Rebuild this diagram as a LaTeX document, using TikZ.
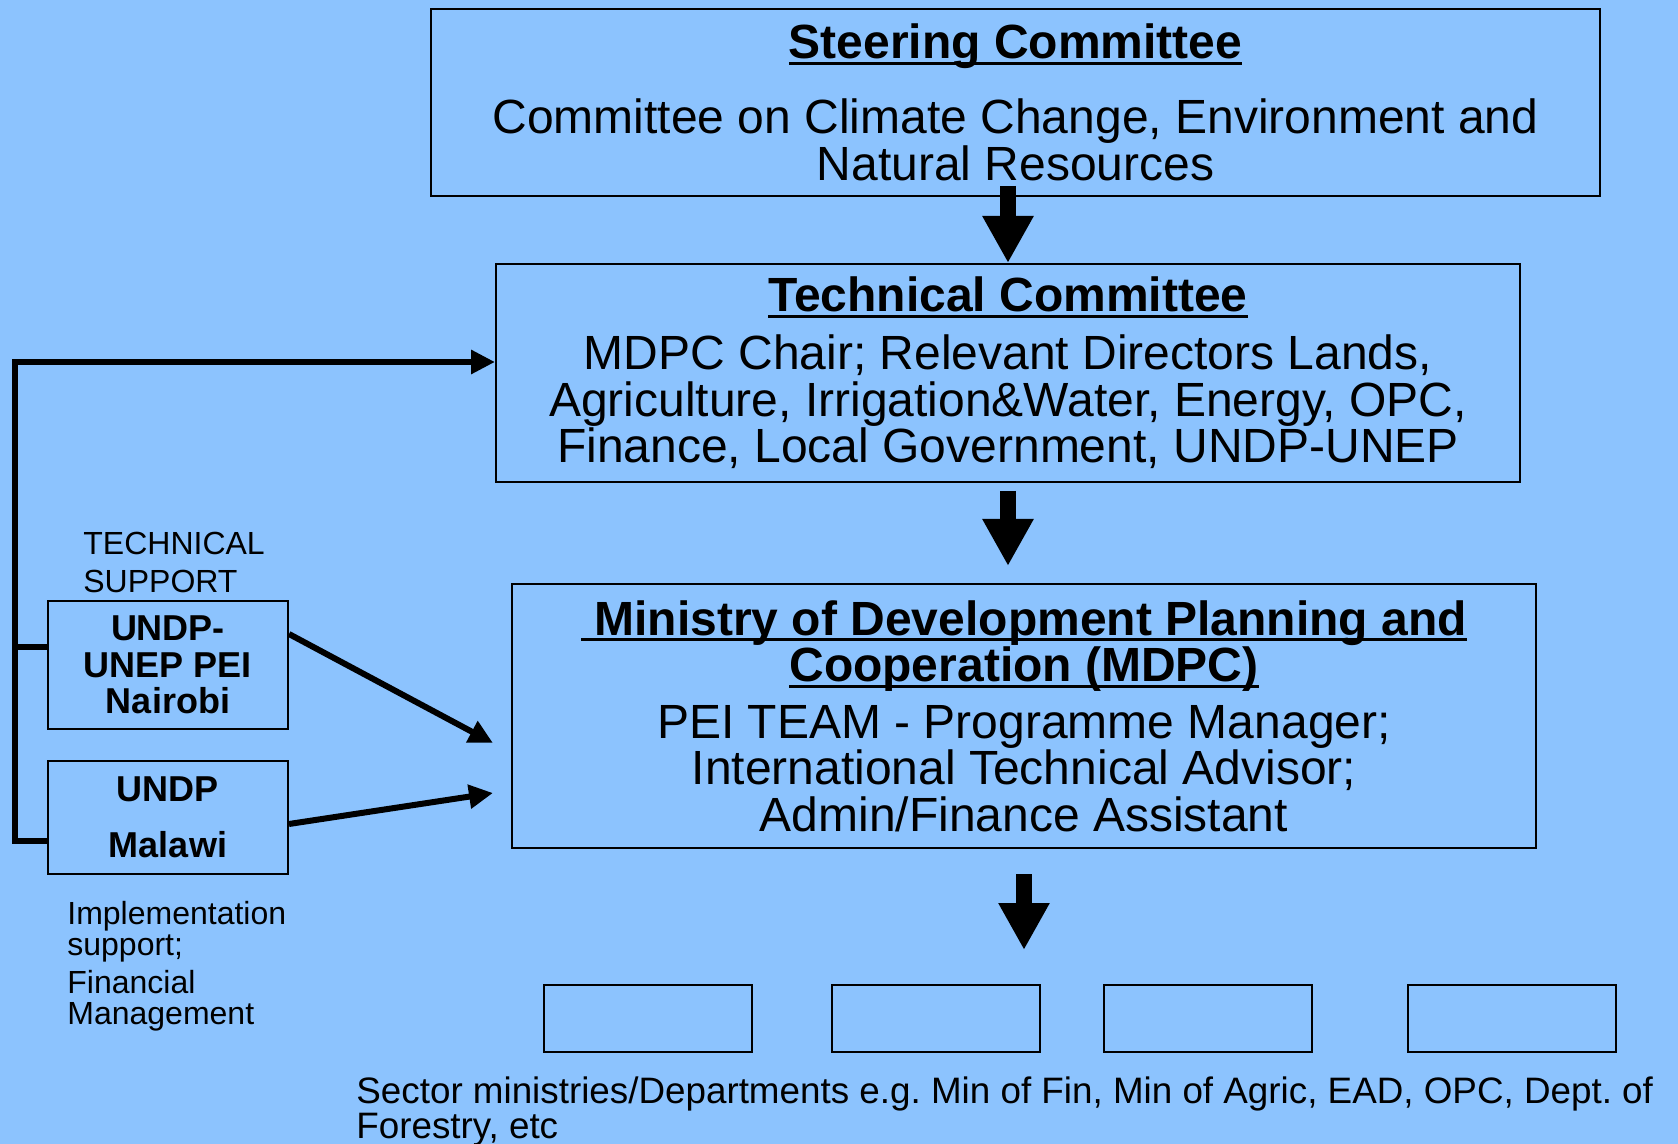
\documentclass[tikz,border=0pt]{standalone}
\usepackage{fontspec}
\setmainfont{Liberation Sans}
\usetikzlibrary{arrows.meta}

\definecolor{bgblue}{RGB}{140,195,254}
\newcommand{\ulin}[1]{\setbox0\hbox{#1}\rlap{\rule[-3.2pt]{\wd0}{1.6pt}}\box0}
\frenchspacing

\begin{document}
\begin{tikzpicture}[x=0.5pt,y=0.5pt,yscale=-1,
  box/.style={draw, line width=1pt, align=center, inner sep=0pt},
  bigtxt/.style={font=\fontsize{24pt}{23.2pt}\selectfont},
  smalltxt/.style={font=\fontsize{16pt}{15.5pt}\selectfont, align=left, inner sep=0pt},
  blockarr/.style={line width=8pt, -{Triangle[length=23.5pt,width=24pt]}},
  link/.style={line width=3pt},
  linkarr/.style={link, -{Triangle[length=12pt,width=11.5pt]}}
]
\fill [bgblue] (0,0) rectangle (1678,1144);
\useasboundingbox (0,0) rectangle (1678,1144);

% committees
\node [box, bigtxt, minimum width=584.5pt, minimum height=93.5pt] (steer) at (1015.5,102.5) {{\bfseries\ulin{Steering Committee}}\\[14.3pt]Committee on Climate Change, Environment and\\Natural Resources};
\node [box, bigtxt, minimum width=512pt, minimum height=109pt] (tech) at (1008,373) {{\bfseries\ulin{Technical Committee}}\\[5.8pt]MDPC Chair; Relevant Directors Lands,\\Agriculture, Irrigation\&Water, Energy, OPC,\\Finance, Local Government, UNDP-UNEP};
\node [box, bigtxt, minimum width=512pt, minimum height=132pt] (mdpc) at (1024,716) {{\bfseries\ulin{\ Ministry of Development Planning and}}\\{\bfseries\ulin{Cooperation (MDPC)}}\\[5.3pt]PEI TEAM - Programme Manager;\\International Technical Advisor;\\Admin/Finance Assistant};

% partners
\node [box, font=\bfseries\fontsize{18pt}{18.2pt}\selectfont, minimum width=120pt, minimum height=64pt] (pei) at (168,665) {UNDP-\\UNEP PEI\\Nairobi};
\node [box, font=\bfseries\fontsize{18pt}{18.2pt}\selectfont, minimum width=120pt, minimum height=56.5pt] (malawi) at (168,817.5) {UNDP\\[10pt]Malawi};
\node [smalltxt, font=\fontsize{16pt}{18.75pt}\selectfont, anchor=north west] (tsup) at (83,532) {TECHNICAL\\SUPPORT};
\node [smalltxt, anchor=north west] (impl) at (67,901) {Implementation\\support;\\[3.5pt]Financial\\Management};

% sector ministries
\node [box, minimum width=104pt, minimum height=33.5pt] (sec1) at (648,1018.5) {};
\node [box, minimum width=104pt, minimum height=33.5pt] (sec2) at (936,1018.5) {};
\node [box, minimum width=104pt, minimum height=33.5pt] (sec3) at (1207.5,1018.5) {};
\node [box, minimum width=104pt, minimum height=33.5pt] (sec4) at (1511.5,1018.5) {};
\node [smalltxt, font=\fontsize{18.4pt}{17.7pt}\selectfont, anchor=north west] (sect) at (356,1076) {Sector ministries/Departments e.g. Min of Fin, Min of Agric, EAD, OPC, Dept. of\\Forestry, etc};

% block arrows
\draw [blockarr] ([yshift=-5.5pt]steer.south -| tech.north) -- (tech.north);
\draw [blockarr] ([yshift=4pt]tech.south) -- ([yshift=-8.5pt]mdpc.north -| tech.south);
\draw [blockarr] ([yshift=12.5pt]mdpc.south) -- ([yshift=-17pt]sec2.north -| mdpc.south);

% support lines
\coordinate (bk) at (15,362);
\draw [linkarr] ([yshift=11.75pt]malawi.west) -| (bk) -- (bk -| tech.west);
\draw [link] ([yshift=-9pt]pei.west) -- ([yshift=-9pt]pei.west -| bk);
\draw [linkarr] ([yshift=-15.5pt]pei.east) -- ([xshift=-9pt,yshift=13.5pt]mdpc.west);
\draw [linkarr] ([yshift=3.25pt]malawi.east) -- ([xshift=-9pt,yshift=38.5pt]mdpc.west);

\end{tikzpicture}
\end{document}
